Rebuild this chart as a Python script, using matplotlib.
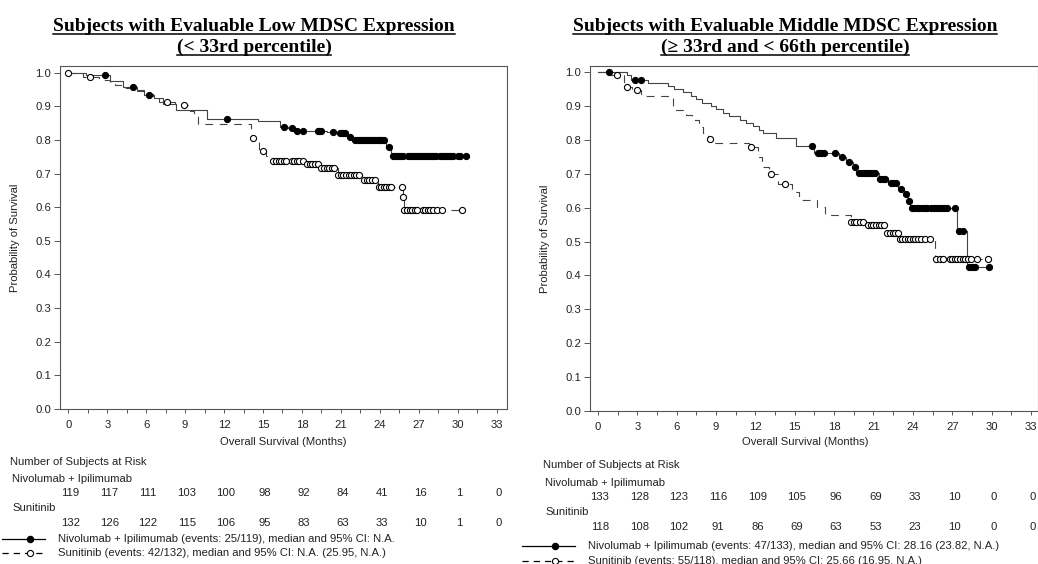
import numpy as np
import matplotlib
matplotlib.use('Agg')
import matplotlib.pyplot as plt
from matplotlib.lines import Line2D
from matplotlib.transforms import blended_transform_factory

plt.rcParams['font.family'] = ['Liberation Sans', 'DejaVu Sans']

# --- Low MDSC group ---
nivo_low_t = [0, 1.4, 3.2, 4.2, 5.3, 5.8, 6.6, 7.3, 8.3, 10.7, 14.6, 16.3, 16.9, 17.4,
              19.9, 20.7, 21.5, 21.9, 24.5, 24.9]
nivo_low_s = [1.0, 0.992, 0.975, 0.958, 0.95, 0.933, 0.924, 0.908, 0.89, 0.862, 0.855, 0.84,
              0.835, 0.828, 0.825, 0.82, 0.81, 0.80, 0.778, 0.752]
nivo_low_cens = [2.8, 5.0, 6.2, 12.2, 16.6, 17.2, 17.6, 18.1, 19.2, 19.35, 19.5, 20.4, 20.9,
                 21.05, 21.2, 21.35, 21.7, 22.1, 22.25, 22.4, 22.55, 22.7, 22.85, 23.0, 23.15,
                 23.3, 23.45, 23.6, 23.75, 23.9, 24.05, 24.2, 24.35, 24.7, 25.0, 25.15, 25.3,
                 25.45, 25.6, 25.75, 26.2, 26.35, 26.5, 26.65, 26.8, 26.95, 27.1, 27.25, 27.4,
                 27.55, 27.7, 27.85, 28.0, 28.15, 28.3, 28.6, 28.75, 28.9, 29.05, 29.2, 29.35,
                 29.5, 29.65, 30.0, 30.15, 30.65]

sun_low_t = [0, 1.1, 2.4, 3.2, 3.6, 4.2, 5.3, 6.0, 6.5, 7.0, 8.2, 9.4, 9.7, 10.0, 14.1, 14.7,
             15.2, 15.7, 18.3, 19.4, 20.75, 22.65, 23.85, 25.75, 25.85]
sun_low_s = [1.0, 0.988, 0.977, 0.97, 0.963, 0.955, 0.947, 0.938, 0.93, 0.912, 0.903, 0.887,
             0.87, 0.848, 0.805, 0.767, 0.752, 0.737, 0.728, 0.718, 0.695, 0.682, 0.66, 0.631,
             0.592]
sun_low_cens = [0, 1.67, 7.6, 8.9, 14.25, 15.0, 15.8, 16.0, 16.2, 16.4, 16.6, 16.8, 17.2, 17.4,
                17.6, 17.8, 18.1, 18.4, 18.6, 18.8, 19.0, 19.2, 19.5, 19.7, 19.9, 20.1, 20.3,
                20.5, 20.8, 21.0, 21.2, 21.4, 21.6, 21.8, 22.0, 22.2, 22.4, 22.8, 23.0, 23.2,
                23.4, 23.6, 23.9, 24.1, 24.3, 24.5, 24.7, 24.9, 25.7, 25.8, 25.9, 26.1, 26.3,
                26.5, 26.7, 26.9, 27.3, 27.5, 27.7, 27.9, 28.1, 28.4, 28.8, 30.3]

# --- Middle MDSC group ---
nivo_mid_t = [0, 2.2, 2.5, 3.8, 5.3, 5.8, 6.5, 7.1, 7.5, 7.9, 8.6, 9.0, 9.5, 10.0, 10.8, 11.3,
              11.8, 12.3, 12.6, 13.6, 15.1, 16.5, 18.4, 18.9, 19.4, 19.7, 21.4, 22.1, 22.9,
              23.3, 23.6, 23.8, 27.35, 28.16]
nivo_mid_s = [1.0, 0.99, 0.977, 0.967, 0.958, 0.95, 0.94, 0.93, 0.92, 0.91, 0.90, 0.89, 0.88,
              0.87, 0.86, 0.85, 0.84, 0.83, 0.82, 0.805, 0.782, 0.76, 0.75, 0.735, 0.719, 0.701,
              0.685, 0.672, 0.655, 0.64, 0.62, 0.60, 0.532, 0.424]
nivo_mid_cens = [0.84, 2.8, 3.3, 16.3, 16.8, 17.0, 17.2, 18.1, 18.6, 19.1, 19.6, 19.9, 20.1,
                 20.3, 20.5, 20.7, 20.9, 21.1, 21.5, 21.7, 21.9, 22.3, 22.5, 22.7, 23.1, 23.45,
                 23.7, 23.9, 24.1, 24.3, 24.5, 24.7, 24.9, 25.1, 25.4, 25.6, 25.8, 26.0, 26.2,
                 26.4, 26.6, 27.2, 27.5, 27.8, 28.3, 28.5, 28.7, 29.8]

sun_mid_t = [0, 0.6, 2.0, 2.6, 3.3, 5.7, 6.7, 7.2, 7.7, 8.0, 8.4, 8.8, 11.5, 12.2, 12.5, 13.0,
             13.7, 14.8, 15.3, 16.7, 17.3, 19.25, 20.45, 21.95, 22.9, 25.66]
sun_mid_s = [1.0, 0.99, 0.957, 0.947, 0.929, 0.888, 0.873, 0.86, 0.839, 0.82, 0.804, 0.792,
             0.778, 0.75, 0.72, 0.698, 0.67, 0.647, 0.622, 0.603, 0.578, 0.558, 0.549, 0.524,
             0.509, 0.448]
sun_mid_cens = [1.45, 2.2, 3.0, 8.5, 11.7, 13.2, 14.25, 19.3, 19.5, 19.7, 20.0, 20.2, 20.6,
                20.8, 21.0, 21.2, 21.4, 21.6, 21.8, 22.05, 22.25, 22.45, 22.65, 22.85, 23.0,
                23.2, 23.4, 23.6, 23.8, 24.0, 24.2, 24.4, 24.6, 24.9, 25.3, 25.8, 26.1, 26.3,
                26.8, 27.0, 27.2, 27.4, 27.6, 27.8, 28.0, 28.2, 28.4, 28.9, 29.7]

# numbers at risk every 3 months
risk_months = [0, 3, 6, 9, 12, 15, 18, 21, 24, 27, 30, 33]
risk_nivo_low = [119, 117, 111, 103, 100, 98, 92, 84, 41, 16, 1, 0]
risk_sun_low = [132, 126, 122, 115, 106, 95, 83, 63, 33, 10, 1, 0]
risk_nivo_mid = [133, 128, 123, 116, 109, 105, 96, 69, 33, 10, 0, 0]
risk_sun_mid = [118, 108, 102, 91, 86, 69, 63, 53, 23, 10, 0, 0]

legend_low = ['Nivolumab + Ipilimumab (events: 25/119), median and 95% CI: N.A.',
              'Sunitinib (events: 42/132), median and 95% CI: N.A. (25.95, N.A.)']
legend_mid = ['Nivolumab + Ipilimumab (events: 47/133), median and 95% CI: 28.16 (23.82, N.A.)',
              'Sunitinib (events: 55/118), median and 95% CI: 25.66 (16.95, N.A.)']

W, H = 1038, 564
fig = plt.figure(figsize=(W / 100, H / 100), dpi=100)


def fx(px):
    return px / W


def fy(py):
    return 1 - py / H


FS = 8.1
TXT = '#222222'
LINE = '#444444'
MS = 4.4


def km(ax, times, surv, cens, ls, face):
    end = max(cens)
    t = list(times) + [end]
    s = list(surv) + [surv[-1]]
    if ls == 'dashed':
        ax.step(t, s, where='post', color=LINE, lw=0.8, linestyle=(0, (7, 6)))
    else:
        ax.step(t, s, where='post', color=LINE, lw=0.8)
    c = np.asarray(cens)
    idx = np.searchsorted(times, c, side='right') - 1
    ax.plot(c, np.asarray(surv)[idx], linestyle='none', marker='o', ms=MS,
            mfc=face, mec='black', mew=0.8, zorder=3)


def setup(ax, xmin, xmax, ymax):
    ax.set_xlim(xmin, xmax)
    ax.set_ylim(0, ymax)
    ax.set_xticks(risk_months)
    ax.set_xticks([m + 1.5 for m in risk_months[:-1]], minor=True)
    ax.set_yticks(np.round(np.arange(0, 1.01, 0.1), 1))
    ax.yaxis.set_major_formatter(plt.FormatStrFormatter('%.1f'))
    for sp in ax.spines.values():
        sp.set_color('#555555')
        sp.set_linewidth(0.8)
    ax.tick_params(axis='x', which='both', length=3, width=0.7, color='#555555',
                   labelsize=FS, labelcolor=TXT, pad=5)
    ax.tick_params(axis='y', length=4.5, width=0.7, color='#555555',
                   labelsize=FS, labelcolor=TXT, pad=2)


panels = [
    dict(box=(60, 409, 447, 343), xlim=(-0.64, 33.8), ymax=1.02,
         nivo=(nivo_low_t, nivo_low_s, nivo_low_cens), sun=(sun_low_t, sun_low_s, sun_low_cens),
         risk=(risk_nivo_low, risk_sun_low), legend=legend_low,
         title=('Subjects with Evaluable Low MDSC Expression', '(< 33rd percentile)'), tcx=254,
         xlab=283, ylab=15, rows=(462, 479, 493, 508, 523, 539, 553),
         leg_line=(2, 45, 30), leg_text=58, lab_x=10),
    dict(box=(590, 411, 448, 345), xlim=(-0.61, 33.54), ymax=1.018,
         nivo=(nivo_mid_t, nivo_mid_s, nivo_mid_cens), sun=(sun_mid_t, sun_mid_s, sun_mid_cens),
         risk=(risk_nivo_mid, risk_sun_mid), legend=legend_mid,
         title=('Subjects with Evaluable Middle MDSC Expression',
                '(\u2265 33rd and < 66th percentile)'), tcx=785,
         xlab=805, ylab=545, rows=(465, 483, 497, 512, 527, 546, 561),
         leg_line=(522, 575, 555), leg_text=588, lab_x=543),
]

titles = []
for p in panels:
    left, bottom, w, h = p['box']
    ax = fig.add_axes([fx(left), fy(bottom), fx(w), h / H])
    setup(ax, p['xlim'][0], p['xlim'][1], p['ymax'])
    km(ax, *p['nivo'], ls='solid', face='black')
    km(ax, *p['sun'], ls='dashed', face='white')

    # titles, underlined afterwards
    for line, yb in zip(p['title'], (31, 52)):
        titles.append(fig.text(fx(p['tcx']), fy(yb), line, ha='center', va='baseline',
                               fontsize=14, fontweight='bold',
                               family=['Liberation Serif', 'DejaVu Serif'], color='black'))

    fig.text(fx(p['ylab']), fy(bottom - h / 2), 'Probability of Survival', rotation=90,
             ha='center', va='center', fontsize=FS, color=TXT)
    fig.text(fx(p['xlab']), fy(442), 'Overall Survival (Months)', ha='center', va='center',
             fontsize=FS, color=TXT)

    r = p['rows']
    fig.text(fx(p['lab_x']), fy(r[0]), 'Number of Subjects at Risk', ha='left', va='center',
             fontsize=FS, color=TXT)
    fig.text(fx(p['lab_x'] + 2), fy(r[1]), 'Nivolumab + Ipilimumab', ha='left', va='center',
             fontsize=FS, color=TXT)
    fig.text(fx(p['lab_x'] + 2), fy(r[3]), 'Sunitinib', ha='left', va='center',
             fontsize=FS, color=TXT)
    trans = blended_transform_factory(ax.transData, fig.transFigure)
    for m, a, b in zip(risk_months, p['risk'][0], p['risk'][1]):
        ax.text(m + 0.15, fy(r[2]), str(a), transform=trans, ha='center', va='center',
                fontsize=FS, color=TXT, clip_on=False)
        ax.text(m + 0.15, fy(r[4]), str(b), transform=trans, ha='center', va='center',
                fontsize=FS, color=TXT, clip_on=False)

    # legend rows
    x1, x2, xm = p['leg_line']
    fig.add_artist(Line2D([fx(x1), fx(x2)], [fy(r[5])] * 2, color='black', lw=0.9))
    fig.add_artist(Line2D([fx(xm)], [fy(r[5])], marker='o', ms=MS, mfc='black', mec='black',
                          linestyle='none'))
    fig.add_artist(Line2D([fx(x1), fx(x2)], [fy(r[6])] * 2, color='black', lw=0.9,
                          linestyle=(0, (5, 4))))
    fig.add_artist(Line2D([fx(xm)], [fy(r[6])], marker='o', ms=MS, mfc='white', mec='black',
                          mew=0.8, linestyle='none'))
    fig.text(fx(p['leg_text']), fy(r[5]), p['legend'][0], ha='left', va='center',
             fontsize=FS, color=TXT)
    fig.text(fx(p['leg_text']), fy(r[6]), p['legend'][1], ha='left', va='center',
             fontsize=FS, color=TXT)

fig.canvas.draw()
for t in titles:
    bb = t.get_window_extent()
    yl = t.get_position()[1] - 2.5 / H
    fig.add_artist(Line2D([bb.x0 / W, bb.x1 / W], [yl, yl], color='black', lw=1.1))

fig.savefig('out.png', dpi=100)
